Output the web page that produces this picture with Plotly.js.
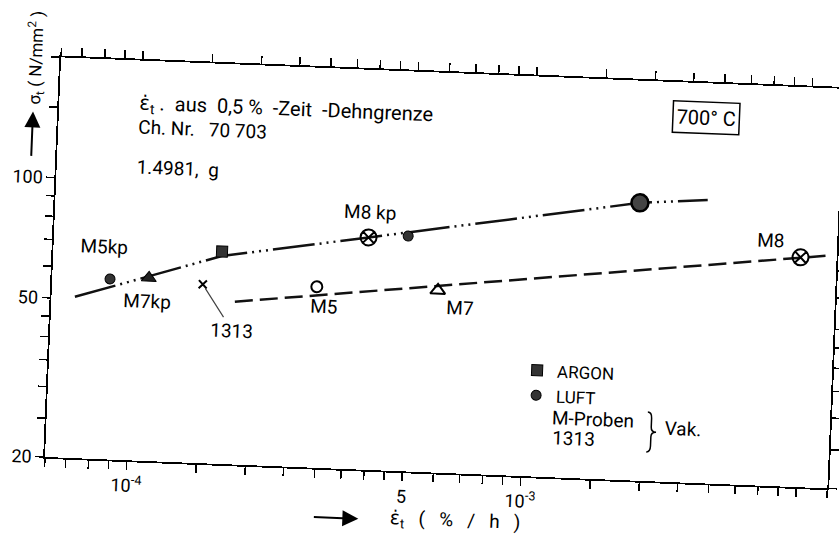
<!DOCTYPE html>
<html>
<head>
<meta charset="utf-8">
<script src="https://cdn.plot.ly/plotly-3.0.1.min.js"></script>
<style>
  html, body { margin: 0; padding: 0; background: #fff; overflow: hidden; }
  #chart { width: 839px; height: 540px; transform: rotate(2.3deg); transform-origin: 45px 457px; }
</style>
</head>
<body>
<div id="chart"></div>
<script>
// ---- data (strain rate in %/h, stress in N/mm^2) ----
const argonX = [1.66e-4];
const argonY = [67.9];
const luftX = [8.69e-5, 4.90e-4];
const luftY = [56.5, 77.5];
const luftBigX = [1.88e-3];
const luftBigY = [99.0];
const m7kpX = [1.09e-4];
const m7kpY = [57.4];
const m8kpX = [3.89e-4];
const m8kpY = [76.2];
const m5X = [2.91e-4];
const m5Y = [56.7];
const m7X = [5.90e-4];
const m7Y = [57.1];
const m8X = [4.86e-3];
const m8Y = [75.1];
const p1313X = [1.495e-4];
const p1313Y = [56.0];
const kpLineX = [7.11e-5, 1.66e-4, 3.89e-4, 1.88e-3, 2.79e-3];
const kpLineY = [50.6, 66.2, 76.2, 99.0, 102.2];
const vakLineX = [1.81e-4, 5.62e-3];
const vakLineY = [51.05, 76.2];

const xTickVals = [6.2e-5, 7e-5, 8e-5, 9e-5, 1e-4, 1.5e-4, 2e-4, 2.5e-4, 3e-4, 3.5e-4, 4e-4, 4.5e-4, 5e-4, 6e-4, 7e-4, 8e-4, 9e-4, 1e-3, 1.5e-3, 2e-3, 2.5e-3, 3e-3, 3.5e-3, 4e-3, 4.5e-3, 5e-3, 6e-3];
const xTickText = ['', '', '', '', '10<sup>-4</sup>', '', '', '', '', '', '', '', '5', '', '', '', '', '10<sup>-3</sup>', '', '', '', '', '', '', '', '', ''];
const yTickVals = [20, 25, 30, 35, 40, 45, 50, 60, 70, 80, 90, 100, 150, 200];
const yTickText = ['20', '', '', '', '', '', '50', '', '', '', '', '100', '', ''];

const FONT = 'Roboto, "DejaVu Sans", sans-serif';
const L = Math.log10;

const traces = [
  { x: kpLineX, y: kpLineY, mode: 'lines', showlegend: false, hoverinfo: 'skip',
    line: { color: '#111', width: 2.5, dash: '42px,5px,2px,5px,2px,5px,2px,5px' } },
  { x: vakLineX, y: vakLineY, mode: 'lines', showlegend: false, hoverinfo: 'skip',
    line: { color: '#111', width: 2.5, dash: '18px,7px' } },
  { x: argonX, y: argonY, mode: 'markers', name: 'ARGON',
    marker: { symbol: 'square', size: 11, color: '#333', line: { color: '#000', width: 1 } } },
  { x: luftX, y: luftY, mode: 'markers', name: 'LUFT',
    marker: { symbol: 'circle', size: 10, color: '#333', line: { color: '#000', width: 1 } } },
  { x: luftBigX, y: luftBigY, mode: 'markers', showlegend: false,
    marker: { symbol: 'circle', size: 17, color: '#444', line: { color: '#000', width: 2.5 } } },
  { x: m7kpX, y: m7kpY, mode: 'markers', showlegend: false,
    marker: { symbol: 'triangle-up', size: 13, color: '#222', line: { color: '#000', width: 1 } } },
  { x: m8kpX, y: m8kpY, mode: 'markers', showlegend: false,
    marker: { symbol: 'circle-x-open', size: 16, color: '#000', line: { color: '#000', width: 2 } } },
  { x: m5X, y: m5Y, mode: 'markers', showlegend: false,
    marker: { symbol: 'circle-open', size: 11, color: '#000', line: { color: '#000', width: 2 } } },
  { x: m7X, y: m7Y, mode: 'markers', showlegend: false,
    marker: { symbol: 'triangle-up-open', size: 13, color: '#000', line: { color: '#000', width: 2 } } },
  { x: m8X, y: m8Y, mode: 'markers', showlegend: false,
    marker: { symbol: 'circle-x-open', size: 16, color: '#000', line: { color: '#000', width: 2 } } },
  { x: p1313X, y: p1313Y, mode: 'markers', showlegend: false,
    marker: { symbol: 'x-thin-open', size: 8, color: '#000', line: { color: '#000', width: 2 } } }
];

function lab(text, px, py, xs, ys) {
  return { x: L(px), y: L(py), xref: 'x', yref: 'y', text: text, showarrow: false,
           xanchor: 'center', yanchor: 'middle',
           xshift: xs, yshift: ys, font: { family: FONT, size: 19, color: '#000' } };
}
function ptext(text, x, y, size, xa) {
  return { x: x, y: y, xref: 'paper', yref: 'paper', xanchor: xa || 'left', yanchor: 'middle',
           showarrow: false, text: text, font: { family: FONT, size: size, color: '#000' } };
}

const annotations = [
  lab('M5kp', luftX[0], luftY[0], -7, 32),
  lab('M7kp', m7kpX[0], m7kpY[0], -1, -24),
  lab('M8 kp', m8kpX[0], m8kpY[0], 1, 25),
  lab('M5', m5X[0], m5Y[0], 8, -20),
  lab('M7', m7X[0], m7Y[0], 23, -17),
  lab('M8', m8X[0], m8Y[0], -30, 16),
  { x: L(p1313X[0]), y: L(p1313Y[0]), xref: 'x', yref: 'y', text: '1313', showarrow: true,
    xanchor: 'center', yanchor: 'middle',
    ax: 31, ay: 45, arrowhead: 0, arrowwidth: 1.2, standoff: 5,
    font: { family: FONT, size: 19, color: '#000' } },
  ptext('ε̇<sub>t</sub> .  aus  0,5 %  -Zeit  -Dehngrenze', 0.10, 0.8935, 20),
  ptext('Ch. Nr.   70 703', 0.10, 0.8337, 19),
  ptext('1.4981,  g', 0.10, 0.7337, 19),
  { x: 0.826, y: 0.914, xref: 'paper', yref: 'paper', xanchor: 'center', yanchor: 'middle',
    showarrow: false, text: '700° C',
    bordercolor: '#000', borderwidth: 1.5, borderpad: 3, font: { family: FONT, size: 20, color: '#000' } },
  ptext('M-Proben', 0.6425, 0.148, 19),
  ptext('1313', 0.6435, 0.098, 19),
  ptext('Vak.', 0.7862, 0.134, 19),
  // y axis title with arrow
  { x: -0.032, y: 0.997, xref: 'paper', yref: 'paper', xanchor: 'center', yanchor: 'middle',
    showarrow: false, textangle: -90,
    text: 'σ<sub>t</sub> ( N/mm<sup>2</sup> )', font: { family: FONT, size: 17, color: '#000' } },
  { x: -0.033, y: 0.862, xref: 'paper', yref: 'paper', text: '', showarrow: true,
    axref: 'pixel', ayref: 'pixel', ax: 0, ay: 46, arrowhead: 2, arrowsize: 1.6, arrowwidth: 2, arrowcolor: '#000' },
  // x axis title with arrow
  { x: 0.403, y: -0.123, xref: 'paper', yref: 'paper', text: '', showarrow: true,
    axref: 'pixel', ayref: 'pixel', ax: -46, ay: 0, arrowhead: 2, arrowsize: 1.6, arrowwidth: 2, arrowcolor: '#000' },
  ptext('ε̇<sub>t</sub>   (   %   /   h   )', 0.441, -0.118, 19)
];

// curly brace for "Vak."
const bx = 0.767, bm = bx + 4 / 783, bt = bx + 9 / 783, yt = 0.173, yb = 0.073, ym = 0.123;
const bracePath = 'M' + bx + ',' + yt + ' Q' + bm + ',' + yt + ' ' + bm + ',' + (yt - 0.015) +
  ' L' + bm + ',' + (ym + 0.012) + ' Q' + bm + ',' + ym + ' ' + bt + ',' + ym +
  ' Q' + bm + ',' + ym + ' ' + bm + ',' + (ym - 0.012) +
  ' L' + bm + ',' + (yb + 0.015) + ' Q' + bm + ',' + yb + ' ' + bx + ',' + yb;

const axisCommon = {
  type: 'log', showgrid: false, zeroline: false, showline: true, linecolor: '#000', linewidth: 1.8,
  mirror: 'ticks', ticks: 'outside', ticklen: 8, tickwidth: 1.5, tickcolor: '#000',
  tickmode: 'array', tickfont: { family: FONT, size: 18, color: '#000' }
};

const layout = {
  width: 839, height: 540,
  margin: { l: 45, r: 11, t: 57, b: 83 },
  paper_bgcolor: 'rgba(0,0,0,0)', plot_bgcolor: 'rgba(0,0,0,0)',
  font: { family: FONT, color: '#000' },
  xaxis: Object.assign({}, axisCommon, { range: [L(6.2e-5), L(6e-3)], tickvals: xTickVals, ticktext: xTickText }),
  yaxis: Object.assign({}, axisCommon, { range: [L(20), L(200)], tickvals: yTickVals, ticktext: yTickText }),
  showlegend: true,
  legend: { x: 0.598, y: 0.31, xanchor: 'left', yanchor: 'top', bgcolor: 'rgba(0,0,0,0)',
            font: { family: FONT, size: 17, color: '#000' }, itemwidth: 30, tracegroupgap: 0 },
  shapes: [{ type: 'path', xref: 'paper', yref: 'paper', path: bracePath, line: { color: '#000', width: 1.5 } }],
  annotations: annotations
};

Plotly.newPlot('chart', traces, layout, { displayModeBar: false, staticPlot: true });
</script>
</body>
</html>
